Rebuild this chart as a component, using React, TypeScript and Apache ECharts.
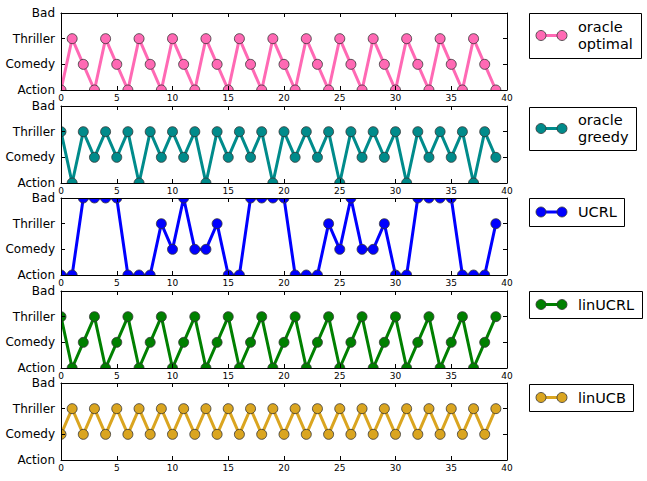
import React, { useEffect, useRef } from "react";
import * as echarts from "echarts";

const yLabels = ["Action", "Comedy", "Thriller", "Bad"];
const xTicks = { min: 0, max: 40, interval: 5 };

const seriesNames = ["oracle\noptimal", "oracle\ngreedy", "UCRL", "linUCRL", "linUCB"];
const seriesColors = ["#FF69B4", "#008B8B", "#0000FF", "#008000", "#DAA520"];

const oracleOptimal = [0, 2, 1, 0, 2, 1, 0, 2, 1, 0, 2, 1, 0, 2, 1, 0, 2, 1, 0, 2, 1, 0, 2, 1, 0, 2, 1, 0, 2, 1, 0, 2, 1, 0, 2, 1, 0, 2, 1, 0];
const oracleGreedy = [2, 0, 2, 1, 2, 1, 2, 0, 2, 1, 2, 1, 2, 0, 2, 1, 2, 1, 2, 0, 2, 1, 2, 1, 2, 0, 2, 1, 2, 1, 2, 0, 2, 1, 2, 1, 2, 0, 2, 1];
const ucrl = [0, 0, 3, 3, 3, 3, 0, 0, 0, 2, 1, 3, 1, 1, 2, 0, 0, 3, 3, 3, 3, 0, 0, 0, 2, 1, 3, 1, 1, 2, 0, 0, 3, 3, 3, 3, 0, 0, 0, 2];
const linUcrl = [2, 0, 1, 2, 0, 1, 2, 0, 1, 2, 0, 1, 2, 0, 1, 2, 0, 1, 2, 0, 1, 2, 0, 1, 2, 0, 1, 2, 0, 1, 2, 0, 1, 2, 0, 1, 2, 0, 1, 2];
const linUcb = [1, 2, 1, 2, 1, 2, 1, 2, 1, 2, 1, 2, 1, 2, 1, 2, 1, 2, 1, 2, 1, 2, 1, 2, 1, 2, 1, 2, 1, 2, 1, 2, 1, 2, 1, 2, 1, 2, 1, 2];

const allSeries = [oracleOptimal, oracleGreedy, ucrl, linUcrl, linUcb];

const FONT = "DejaVu Sans";
const GRID_LEFT = 61;
const GRID_WIDTH = 446;
const GRID_HEIGHT = 77;
const gridTops = [13, 106, 198, 291, 383];

// legend boxes: [x, y, w, h]
const legendBoxes = [
  [529, 13, 112, 45],
  [529, 107, 107, 43],
  [529, 198, 95, 28],
  [529, 291, 113, 27],
  [529, 384, 104, 27],
];

export default function App() {
  const ref = useRef<HTMLDivElement>(null);
  useEffect(() => {
    if (!ref.current) return;
    const chart = echarts.init(ref.current, undefined, { renderer: "svg" });

    const grids = gridTops.map((t) => ({ left: GRID_LEFT, top: t, width: GRID_WIDTH, height: GRID_HEIGHT }));
    const xAxes: any[] = [];
    const yAxes: any[] = [];
    gridTops.forEach((_, i) => {
      const baseX = {
        type: "value",
        gridIndex: i,
        min: xTicks.min,
        max: xTicks.max,
        interval: xTicks.interval,
        axisLine: { show: true, onZero: false, lineStyle: { color: "#000", width: 1 } },
        axisTick: { show: true, inside: true, length: 4, lineStyle: { color: "#000" } },
        splitLine: { show: false },
        z: 10,
      };
      xAxes.push({
        ...baseX,
        position: "bottom",
        axisLabel: { show: true, fontSize: 9, color: "#000", margin: 3, fontFamily: FONT },
      });
      xAxes.push({ ...baseX, position: "top", axisLabel: { show: false } });
      const baseY = {
        type: "value",
        gridIndex: i,
        min: 0,
        max: 3,
        interval: 1,
        axisLine: { show: true, onZero: false, lineStyle: { color: "#000", width: 1 } },
        axisTick: { show: true, inside: true, length: 4, lineStyle: { color: "#000" } },
        splitLine: { show: false },
        z: 10,
      };
      yAxes.push({
        ...baseY,
        position: "left",
        axisLabel: {
          show: true,
          fontSize: 12,
          color: "#000",
          margin: 6,
          fontFamily: FONT,
          formatter: (v: number) => yLabels[Math.round(v)] ?? "",
        },
      });
      yAxes.push({ ...baseY, position: "right", axisLabel: { show: false } });
    });

    const series = allSeries.map((vals, i) => ({
      type: "line",
      name: seriesNames[i],
      xAxisIndex: i * 2,
      yAxisIndex: i * 2,
      data: vals.map((v, j) => [j, v]),
      symbol: "circle",
      symbolSize: 10,
      clip: false,
      lineStyle: { width: 3, color: seriesColors[i] },
      itemStyle: { color: seriesColors[i], borderColor: "#333", borderWidth: 0.8 },
      z: 2,
    }));

    const graphics: any[] = [];
    const white = { fill: "#fff" };
    // masks that clip markers to the axes areas
    graphics.push({ type: "rect", silent: true, z: 5, shape: { x: 0, y: 0, width: 647, height: gridTops[0] }, style: white });
    gridTops.forEach((t, i) => {
      const bottom = t + GRID_HEIGHT;
      const next = i < gridTops.length - 1 ? gridTops[i + 1] : 481;
      graphics.push({ type: "rect", silent: true, z: 5, shape: { x: 0, y: bottom, width: 647, height: next - bottom }, style: white });
    });
    graphics.push({ type: "rect", silent: true, z: 5, shape: { x: 0, y: 0, width: GRID_LEFT, height: 481 }, style: white });
    graphics.push({ type: "rect", silent: true, z: 5, shape: { x: GRID_LEFT + GRID_WIDTH, y: 0, width: 647 - GRID_LEFT - GRID_WIDTH, height: 481 }, style: white });

    // legends
    legendBoxes.forEach(([bx, by, bw, bh], i) => {
      const cy = by + bh / 2;
      const color = seriesColors[i];
      graphics.push({ type: "rect", silent: true, z: 11, shape: { x: bx + 0.5, y: by + 0.5, width: bw, height: bh }, style: { fill: "#fff", stroke: "#000", lineWidth: 1 } });
      graphics.push({ type: "line", silent: true, z: 12, shape: { x1: 541, y1: cy, x2: 562, y2: cy }, style: { stroke: color, lineWidth: 3 } });
      [541, 562].forEach((cx) => {
        graphics.push({ type: "circle", silent: true, z: 13, shape: { cx, cy, r: 5 }, style: { fill: color, stroke: "#333", lineWidth: 0.8 } });
      });
      graphics.push({
        type: "text",
        silent: true,
        z: 13,
        x: 578,
        y: cy,
        style: {
          text: seriesNames[i],
          fill: "#000",
          fontSize: 14.5,
          fontFamily: FONT,
          lineHeight: 16.7,
          verticalAlign: "middle",
          align: "left",
        },
      });
    });

    chart.setOption({
      animation: false,
      backgroundColor: "#fff",
      grid: grids,
      xAxis: xAxes,
      yAxis: yAxes,
      series,
      graphic: graphics,
    });
    return () => chart.dispose();
  }, []);
  return <div ref={ref} style={{ position: "absolute", left: 0, top: 0, width: 647, height: 481 }} />;
}
